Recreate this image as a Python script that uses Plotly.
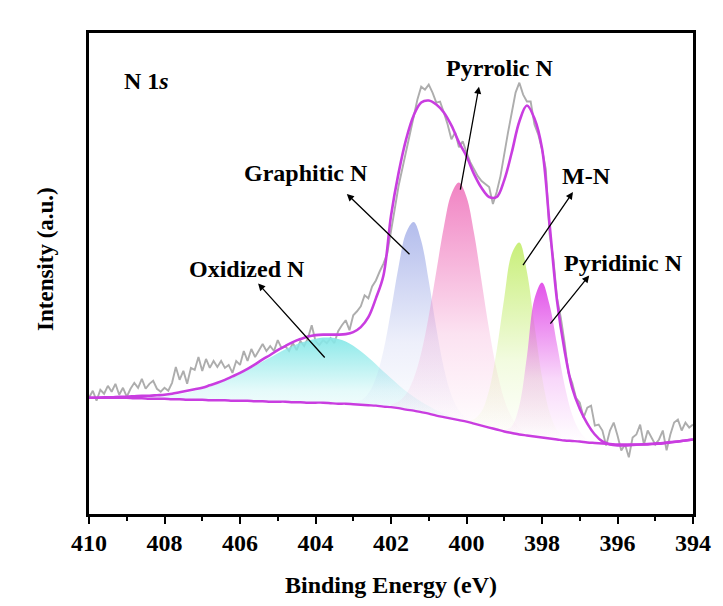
import numpy as np
import plotly.graph_objects as go

# ---------------- data ----------------
grid_energy = np.round(np.linspace(410, 394, 81), 1)   # 0.2 eV grid, 410 -> 394

background = [117, 117, 117, 117, 117, 117, 116.5, 116.5, 116, 116,
              116, 115.5, 115.5, 115, 115, 115, 114.5, 114.5, 114.5, 114,
              114, 114, 113.5, 113.5, 113, 113, 113, 112.5, 112.5, 112,
              112, 112, 111.5, 111, 111, 110.5, 110, 109.5, 109, 108,
              107.5, 106.5, 105, 104, 102.5, 101, 99, 97.5, 96, 94.5,
              93, 91, 89, 87, 85, 83, 81.5, 80, 79, 78,
              77, 76, 75, 74, 73.5, 73, 72, 71.5, 71, 70.5,
              70, 70, 70, 70, 70, 70.5, 71, 72, 73, 74, 75]

envelope = [117, 117, 117.5, 117.5, 118, 118, 118.5, 119, 119, 119.5,
            120, 121, 122.5, 124, 125.5, 127, 129.5, 132, 135, 138.5,
            142, 146, 150.5, 155.5, 160, 165, 169, 173, 176, 178.5,
            180, 180.5, 180.5, 180.5, 181, 183, 188, 198, 217, 240,
            300, 343, 377, 401, 414, 416, 412, 404, 391, 374,
            360, 342, 328, 319, 319, 336, 364, 395, 411, 398,
            368, 292, 214, 164, 127, 106, 91, 80, 73, 70,
            69, 69, 69.5, 70, 70.5, 71, 71.5, 72.5, 73, 74, 75]

raw_energy = np.round(np.linspace(410, 394, 161), 1)   # 0.1 eV steps
raw_intensity = [117, 124, 114, 125, 121, 129, 123, 131, 120, 127,
                 118, 126, 132, 127, 136, 126, 131, 134, 126, 123,
                 127, 124, 132, 148, 135, 144, 131, 147, 145, 158,
                 144, 156, 147, 154, 148, 154, 147, 150, 142, 154,
                 150, 164, 154, 166, 158, 164, 171, 164, 169, 164,
                 175, 167, 169, 164, 172, 165, 174, 169, 177, 190,
                 174, 170, 175, 172, 177, 172, 184, 190, 195, 185,
                 200, 204, 209, 220, 217, 229, 235, 244, 252, 262,
                 287, 307, 330, 347, 364, 384, 400, 417, 430, 427,
                 432, 424, 414, 415, 404, 392, 377, 384, 369, 375,
                 364, 354, 347, 340, 335, 332, 329, 312, 324, 340,
                 364, 384, 404, 424, 434, 422, 415, 415, 392, 382,
                 367, 347, 282, 257, 217, 197, 172, 142, 132, 117,
                 112, 97, 107, 109, 89, 90, 84, 69, 84, 92,
                 79, 64, 70, 57, 77, 80, 90, 70, 84, 77,
                 70, 75, 84, 64, 80, 92, 95, 84, 92, 87, 90]

oxidized_energy = np.round(np.linspace(409.0, 399.6, 48), 1)
oxidized = [117.7, 117.5, 117.9, 117.9, 118.5, 119.3, 119.8, 121.1, 122.1, 123.9,
            126.1, 128.1, 131.0, 134.2, 137.3, 141.1, 145.3, 149.1, 153.5, 157.5,
            161.8, 165.9, 169.1, 172.3, 174.4, 176.4, 177.6, 177.5, 176.2, 173.7,
            169.3, 163.8, 157.4, 150.6, 143.3, 136.6, 129.9, 123.4, 118.0, 113.0,
            108.6, 104.4, 101.2, 98.5, 96.1, 94.0, 91.6, 89.3]

graphitic_energy = np.round(np.linspace(403.0, 399.8, 17), 1)
graphitic = [111.8, 114.2, 121.3, 136.8, 164.3, 204.5, 248.9, 283.0, 293.9, 275.0,
             234.5, 187.1, 147.0, 119.7, 104.2, 96.4, 92.0]

pyrrolic_energy = np.round(np.linspace(402.0, 398.4, 19), 1)
pyrrolic = [110.2, 113.3, 120.7, 136.3, 162.1, 199.3, 244.0, 288.9, 322.1, 333.5,
            319.1, 282.4, 234.0, 185.3, 144.6, 115.3, 97.2, 86.8, 81.7]

mn_energy = np.round(np.linspace(400.0, 397.4, 14), 1)
mn = [94.0, 95.3, 103.3, 124.8, 164.8, 217.4, 261.9, 273.1, 243.8, 190.1,
      137.8, 102.3, 84.1, 76.5]

pyridinic_energy = np.round(np.linspace(399.0, 396.6, 13), 1)
pyridinic = [84.0, 88.4, 109.2, 158.5, 216.5, 233.0, 210.6, 170.2, 129.3, 99.9,
             83.3, 75.3, 72.4]

x_ticks = [410, 408, 406, 404, 402, 400, 398, 396, 394]
x_tick_text = ["410", "408", "406", "404", "402", "400", "398", "396", "394"]

# ---------------- figure ----------------
FONT = "Liberation Serif"
LINE_COLOR = "#C93DE0"

fig = go.Figure()

fig.add_trace(go.Scatter(x=raw_energy, y=raw_intensity, mode="lines",
                         line=dict(color="#ADADAD", width=1.9),
                         showlegend=False, hoverinfo="skip"))

bg_lookup = dict(zip(grid_energy.tolist(), background))

components = [
    (oxidized_energy, oxidized, (135, 232, 232)),
    (graphitic_energy, graphitic, (175, 185, 235)),
    (pyrrolic_energy, pyrrolic, (240, 125, 192)),
    (mn_energy, mn, (198, 238, 115)),
    (pyridinic_energy, pyridinic, (225, 75, 232)),
]
for xs, ys, (r, g, b) in components:
    base = [bg_lookup[round(float(v), 1)] for v in xs]
    fig.add_trace(go.Scatter(x=xs, y=base, mode="lines", line=dict(width=0),
                             showlegend=False, hoverinfo="skip"))
    fig.add_trace(go.Scatter(
        x=xs, y=ys, mode="lines", line=dict(width=0, shape="spline"),
        fill="tonexty",
        fillgradient=dict(type="vertical", colorscale=[
            [0.0, f"rgba({r},{g},{b},0.0)"],
            [0.4, f"rgba({r},{g},{b},0.22)"],
            [1.0, f"rgba({r},{g},{b},0.95)"]]),
        showlegend=False, hoverinfo="skip"))

fig.add_trace(go.Scatter(x=grid_energy, y=background, mode="lines",
                         line=dict(color=LINE_COLOR, width=2.4, shape="spline"),
                         showlegend=False, hoverinfo="skip"))
fig.add_trace(go.Scatter(x=grid_energy, y=envelope, mode="lines",
                         line=dict(color=LINE_COLOR, width=2.6, shape="spline"),
                         showlegend=False, hoverinfo="skip"))

# labels with arrows: (text, text_x, text_y, head_x, head_y, tail_x, tail_y)
labels = [
    ("Oxidized N", 405.81, 247, 405.52, 232, 403.72, 156),
    ("Graphitic N", 404.25, 343, 403.17, 322, 401.47, 260),
    ("Pyrrolic N", 399.11, 449, 399.67, 430, 400.17, 325),
    ("M-N", 396.83, 340, 397.18, 324, 398.53, 249),
    ("Pyridinic N", 395.85, 253, 396.75, 240, 397.81, 190),
]
annotations = []
for text, tx, ty, hx, hy, sx, sy in labels:
    annotations.append(dict(x=tx, y=ty, xref="x", yref="y", text=text,
                            showarrow=False, xanchor="center", yanchor="middle",
                            font=dict(family=FONT, size=24, color="black", weight="bold")))
    annotations.append(dict(x=hx, y=hy, xref="x", yref="y", ax=sx, ay=sy,
                            axref="x", ayref="y", text="", showarrow=True,
                            arrowhead=2, arrowsize=1.1, arrowwidth=1.3,
                            arrowcolor="black", standoff=0, startstandoff=0))
annotations.append(dict(x=408.49, y=436, xref="x", yref="y", text="N 1<i>s</i>",
                        showarrow=False, xanchor="center", yanchor="middle",
                        font=dict(family=FONT, size=24, color="black", weight="bold")))
annotations.append(dict(x=-0.073, y=0.53, xref="paper", yref="paper",
                        text="Intensity (a.u.)", textangle=-90, showarrow=False,
                        xanchor="center", yanchor="middle",
                        font=dict(family=FONT, size=23, color="black", weight="bold")))

fig.update_layout(
    width=723, height=606,
    margin=dict(l=89, r=30, t=33, b=89),
    paper_bgcolor="white", plot_bgcolor="white",
    font=dict(family=FONT, size=24, color="black", weight="bold"),
    annotations=annotations,
    xaxis=dict(range=[410, 394], tickvals=x_ticks, ticktext=x_tick_text,
               ticks="outside", ticklen=7, tickwidth=2.4, tickcolor="black",
               ticklabelstandoff=-2,
               minor=dict(dtick=1, ticks="outside", ticklen=4, tickwidth=2, tickcolor="black"),
               showline=True, linewidth=2.6, linecolor="black", mirror=True,
               showgrid=False, zeroline=False,
               tickfont=dict(family=FONT, size=24, color="black", weight="bold"),
               title=dict(text="Binding Energy (eV)", standoff=22,
                          font=dict(family=FONT, size=24, color="black", weight="bold"))),
    yaxis=dict(range=[0, 484], showticklabels=False, ticks="",
               showline=True, linewidth=2.6, linecolor="black", mirror=True,
               showgrid=False, zeroline=False),
)

fig.write_html("out.html")
